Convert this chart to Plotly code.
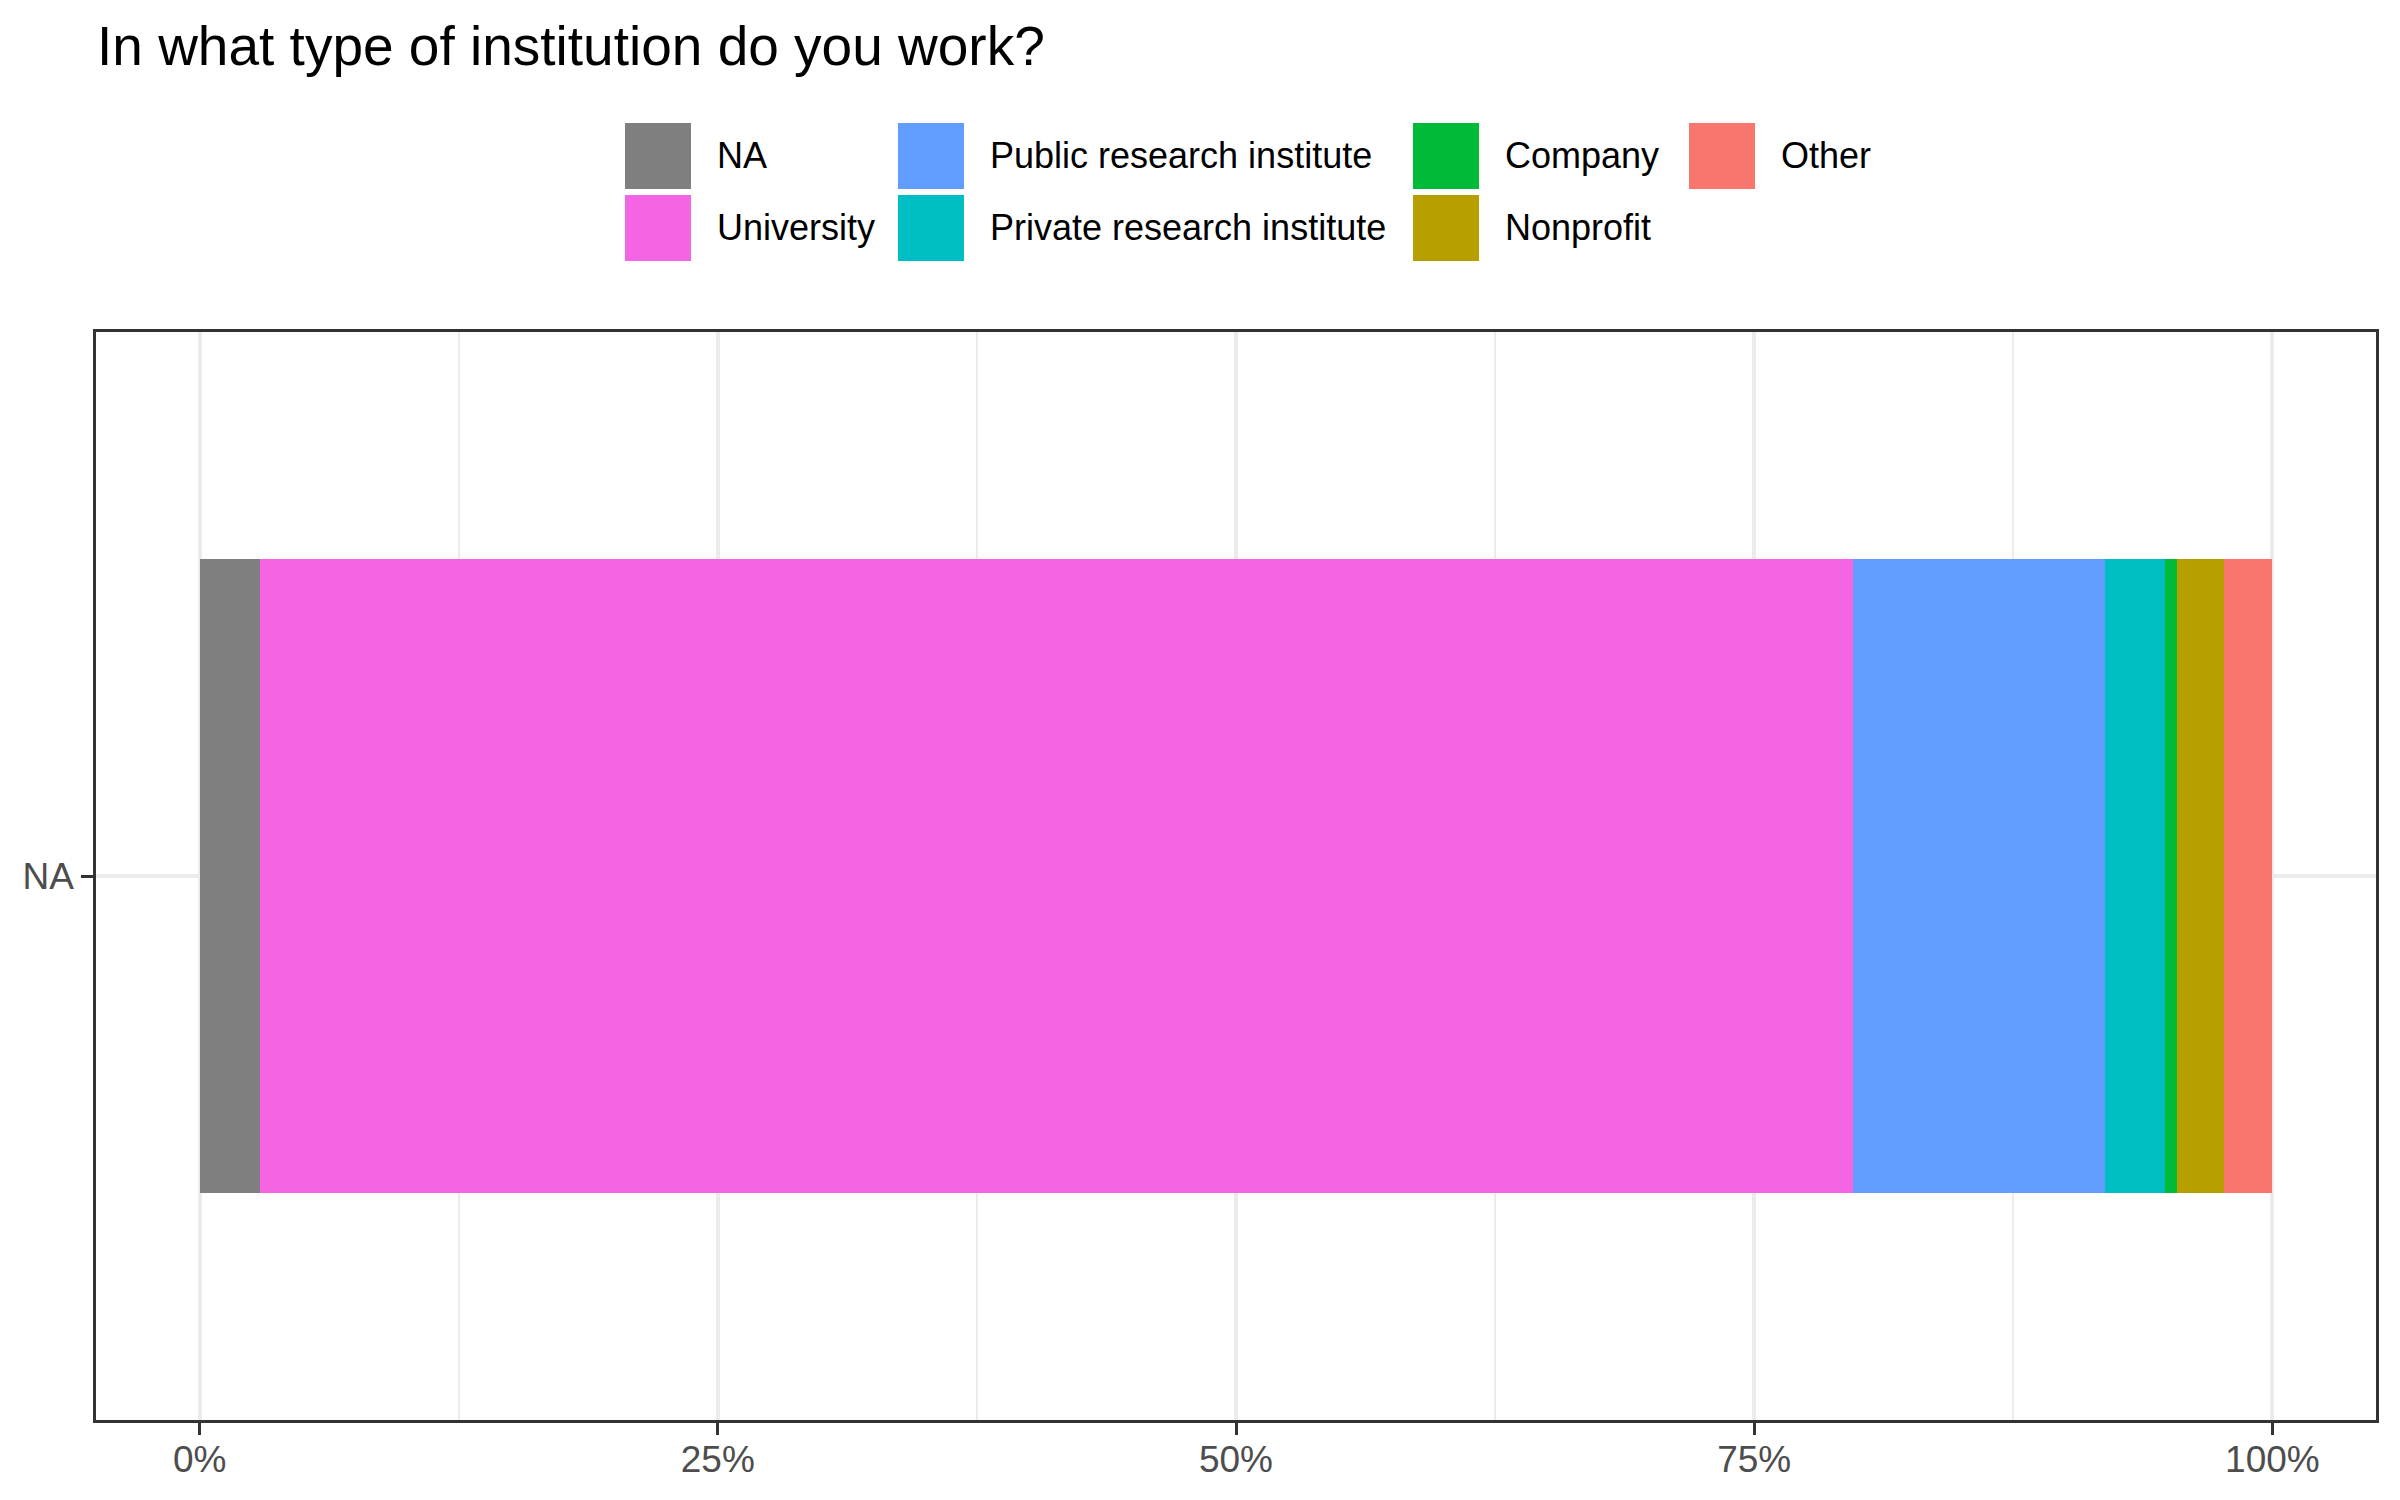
import plotly.graph_objects as go

# share of respondents per institution type (fraction of 1)
categories = ["NA", "University", "Public research institute",
              "Private research institute", "Company", "Nonprofit", "Other"]
shares = [0.0289, 0.7688, 0.1214, 0.0289, 0.0058, 0.0231, 0.0231]
colors = ["#7F7F7F", "#F564E3", "#619CFF", "#00BFC4", "#00BA38", "#B79F00", "#F8766D"]
row_label = ["NA"]
tick_vals = [0, 0.25, 0.5, 0.75, 1]
tick_text = ["0%", "25%", "50%", "75%", "100%"]

# page body adds an 8px margin, so the figure is 8px smaller than the window
W, H = 2392, 1492
L, R, T, B = 88, 24, 324, 80
FONT = "Liberation Sans, Arial, sans-serif"


def px_x(x):
    return (x - L) / (W - L - R)


def px_y(y):
    return (H - B - y) / (H - T - B)


fig = go.Figure()

for name, val, col in zip(categories, shares, colors):
    fig.add_trace(
        go.Bar(
            x=[val],
            y=row_label,
            orientation="h",
            name=name,
            marker=dict(color=col, line=dict(width=0)),
            width=0.9,
            showlegend=False,
        )
    )

# legend drawn by hand: ggplot-style big square keys, filled column by column
legend_cols = [617, 890, 1405, 1681]
legend_rows = [115, 187]
key = 66
for i, (name, col) in enumerate(zip(categories, colors)):
    cx = legend_cols[i // 2]
    ry = legend_rows[i % 2]
    fig.add_shape(
        type="rect", xref="paper", yref="paper",
        x0=px_x(cx), x1=px_x(cx + key), y0=px_y(ry + key), y1=px_y(ry),
        fillcolor=col, line=dict(width=0), layer="above",
    )
    fig.add_annotation(
        xref="paper", yref="paper", x=px_x(cx + 90), y=px_y(ry + key / 2),
        text=name, showarrow=False, xanchor="left", yanchor="middle",
        font=dict(family=FONT, size=36, color="#000000"),
    )

fig.update_layout(
    width=W,
    height=H,
    barmode="stack",
    plot_bgcolor="white",
    paper_bgcolor="white",
    margin=dict(l=L, r=R, t=T, b=B),
    font=dict(family=FONT),
    title=dict(
        text="In what type of institution do you work?",
        xref="container", yref="container",
        x=89 / W, xanchor="left",
        y=1 - 18 / H, yanchor="top",
        font=dict(family=FONT, size=55, color="#000000"),
    ),
    xaxis=dict(
        range=[-0.05, 1.05],
        tickvals=tick_vals,
        ticktext=tick_text,
        showgrid=True, gridcolor="#EBEBEB", gridwidth=3.5,
        minor=dict(dtick=0.125, tick0=0, showgrid=True, gridcolor="#EBEBEB", gridwidth=2),
        zeroline=False,
        showline=True, linecolor="#333333", linewidth=2.5, mirror=True,
        ticks="outside", ticklen=12, tickwidth=3, tickcolor="#333333",
        ticklabelstandoff=-7,
        tickfont=dict(family=FONT, size=37, color="#4D4D4D"),
    ),
    yaxis=dict(
        type="category",
        range=[-0.772, 0.772],
        showgrid=True, gridcolor="#EBEBEB", gridwidth=3.5,
        zeroline=False,
        showline=True, linecolor="#333333", linewidth=2.5, mirror=True,
        ticks="outside", ticklen=12, tickwidth=3, tickcolor="#333333",
        tickfont=dict(family=FONT, size=37, color="#4D4D4D"),
    ),
)

fig.write_html("out.html")
